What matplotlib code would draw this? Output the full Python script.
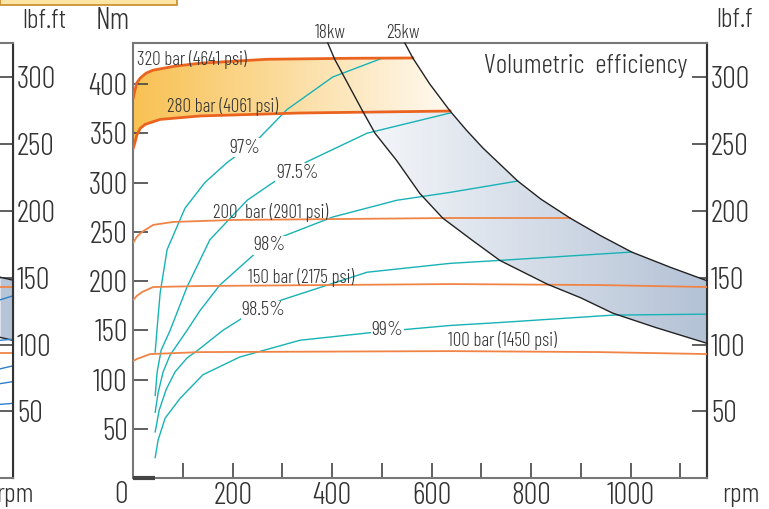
import numpy as np
import matplotlib.pyplot as plt
from matplotlib.patches import Polygon, Rectangle
from matplotlib.colors import to_rgb
from matplotlib.transforms import Bbox, TransformedBbox

plt.rcParams['font.family'] = ['Barlow Condensed', 'DejaVu Sans']
plt.rcParams['font.weight'] = 300

NM_PER_LBFFT = 1.3558
XMAX = 1153
YMAX = 441.5

# pressure lines (rpm, Nm)
p320_rpm = [0, 3, 7, 14, 26, 40, 84, 134, 269, 436, 562]
p320_nm = [386, 393, 401, 406, 411, 414, 418, 421, 425, 426, 426.3]
p280_rpm = [0, 3, 7, 14, 24, 54, 134, 335, 637]
p280_nm = [335, 340, 348, 355, 359, 364, 367.5, 370.5, 372.5]
p200_rpm = [0, 7, 18, 40, 80, 200, 637, 878]
p200_nm = [239, 245, 250, 257, 260, 262, 264, 264]
p150_rpm = [0, 7, 18, 40, 134, 637, 938, 1153]
p150_nm = [181, 185, 189, 194, 195, 197, 196, 194]
p100_rpm = [0, 7, 18, 34, 134, 637, 938, 1153]
p100_nm = [119, 121, 123, 126, 128, 129, 128, 126]

# volumetric efficiency lines (rpm, Nm)
e970_rpm = [44, 48, 54, 68, 104, 144, 188, 249, 309, 401, 500]
e970_nm = [128, 153, 188, 232, 274, 300, 320, 343, 374, 407, 426]
e975_rpm = [44, 48, 56, 74, 108, 154, 229, 281, 349, 470, 637]
e975_nm = [84, 108, 130, 150, 194, 242, 282, 300, 321, 350, 370.5]
e980_rpm = [44, 50, 60, 74, 108, 134, 174, 245, 299, 401, 530, 637, 773]
e980_nm = [67, 87, 108, 125, 150, 170, 196, 228, 245, 265, 282, 290, 301.5]
e985_rpm = [44, 52, 66, 84, 108, 130, 180, 224, 299, 470, 637, 737, 1002]
e985_nm = [47, 69, 90, 108, 122, 130, 150, 164, 181, 209, 218, 221, 229.5]
e990_rpm = [44, 50, 64, 94, 140, 214, 335, 482, 637, 737, 964, 1153]
e990_nm = [21, 39, 61, 81, 105, 123, 140, 148, 155, 158, 165.5, 166.5]

# power curves
kw18_rpm = [391, 405, 460, 486, 530, 576, 622, 680, 737, 832, 900, 964, 1050, 1153]
kw18_nm = [441.5, 425, 373.5, 350, 322, 289, 264, 242, 221, 197, 183, 167.5, 153, 137]
kw25_rpm = [546, 562, 596, 637, 670, 703, 773, 820, 878, 940, 1002, 1080, 1153]
kw25_nm = [441.5, 426.3, 400, 372.5, 353, 335, 301.5, 283, 264, 246, 229.5, 214, 200.5]

min_speed = 44

pressure_labels = ['320 bar (4641 psi)', '280 bar (4061 psi)', '200  bar (2901 psi)',
                   '150 bar (2175 psi)', '100 bar (1450 psi)']
eff_labels = ['97%', '97.5%', '98%', '98.5%', '99%']

# neighbour chart (cut off at left edge)
lp_x = [0.9, 1.0]
lp_band_top = [204, 201]
lp_band_bot = [143, 140]
lp_orange = [[194, 194], [127, 127]]
lp_blue = [[181, 185], [140, 141], [111, 114], [96, 98], [75, 76]]

ORANGE = '#ea6420'
ORANGE2 = '#f08446'
TEAL = '#17b2b5'
GREY = '#777777'
TXT = '#333333'
FS = 22


def gradient_fill(ax, verts, x0, x1, c0, c1, z):
    poly = Polygon(verts, closed=True, facecolor='none', edgecolor='none')
    ax.add_patch(poly)
    t = np.linspace(0, 1, 256)[None, :, None]
    img = (1 - t) * np.array(to_rgb(c0)) + t * np.array(to_rgb(c1))
    im = ax.imshow(img, extent=[x0, x1, 0, YMAX], origin='lower', aspect='auto',
                   zorder=z, interpolation='bilinear')
    im.set_clip_path(poly)


fig = plt.figure(figsize=(7.69, 5.09), dpi=100)
ax = fig.add_axes([133.3 / 769, 30.7 / 509, (706.7 - 133.3) / 769, (478.3 - 43) / 509])

# yellow band between 320 and 280 bar
yverts = list(zip(p320_rpm, p320_nm)) + list(zip(kw25_rpm[1:4], kw25_nm[1:4])) \
    + list(zip(p280_rpm[::-1], p280_nm[::-1]))
gradient_fill(ax, yverts, 0, 640, '#f8c152', '#fffaf2', 0.5)

# blue band between 18kw and 25kw
bverts = list(zip(kw25_rpm[3:], kw25_nm[3:])) + list(zip(kw18_rpm[2:][::-1], kw18_nm[2:][::-1]))
gradient_fill(ax, bverts, 420, XMAX, '#f9fafc', '#b4c2d6', 0.5)

for xs, ys in [(e970_rpm, e970_nm), (e975_rpm, e975_nm), (e980_rpm, e980_nm),
               (e985_rpm, e985_nm), (e990_rpm, e990_nm)]:
    ax.plot(xs, ys, color=TEAL, lw=1.0, zorder=2)

ax.plot(p320_rpm, p320_nm, color=ORANGE, lw=2.0, zorder=3)
ax.plot(p280_rpm, p280_nm, color=ORANGE, lw=2.0, zorder=3)
for xs, ys in [(p200_rpm, p200_nm), (p150_rpm, p150_nm), (p100_rpm, p100_nm)]:
    ax.plot(xs, ys, color=ORANGE2, lw=1.3, zorder=3)

ax.plot(kw18_rpm, kw18_nm, color='#222222', lw=1.0, zorder=4, clip_on=False)
ax.plot(kw25_rpm, kw25_nm, color='#222222', lw=1.0, zorder=4, clip_on=False)

ax.plot([0, min_speed], [0, 0], color='#444444', lw=3, zorder=6, clip_on=False,
        solid_capstyle='butt')

# labels on curves
fs_lab = 13.7
ax.text(7, 425, pressure_labels[0], fontsize=fs_lab, color=TXT, va='center', zorder=5)
ax.text(67, 377, pressure_labels[1], fontsize=fs_lab, color=TXT, va='center', zorder=5)
ax.text(160, 270, pressure_labels[2], fontsize=fs_lab, color=TXT, va='center', zorder=5)
ax.text(231, 204, pressure_labels[3], fontsize=fs_lab, color=TXT, va='center', zorder=5)
ax.text(633, 140, pressure_labels[4], fontsize=fs_lab, color=TXT, va='center', zorder=5)

eff_pos = [(225, 335.5), (330, 310), (274, 236.5), (262, 170.5), (511, 150.5)]
box = dict(facecolor='white', edgecolor='none', pad=0.5)
for (x, y), s in zip(eff_pos, eff_labels):
    ax.text(x, y, s, fontsize=14.5, color=TXT, ha='center', va='center', zorder=5, bbox=box)

ax.text(396, 452, '18kw', fontsize=14, color=TXT, ha='center', va='center', clip_on=False)
ax.text(542, 452, '25kw', fontsize=14, color=TXT, ha='center', va='center', clip_on=False)
ax.text(1113, 411, 'Volumetric  efficiency', fontsize=20, color=TXT, ha='right',
        va='baseline', zorder=5)

ax.set_xlim(0, XMAX)
ax.set_ylim(0, YMAX)
ax.set_xticks([200, 400, 600, 800, 1000])
ax.set_xticks([100, 300, 500, 700, 900, 1100], minor=True)
ax.set_yticks(range(50, 401, 50))
ax.tick_params(axis='both', which='both', direction='in', length=11, width=1.2,
               color='#444444', labelsize=FS, labelcolor=TXT)
ax.tick_params(axis='x', pad=3)
ax.tick_params(axis='y', pad=4)
for side in ['left', 'top', 'bottom']:
    ax.spines[side].set_color(GREY)
    ax.spines[side].set_linewidth(1.5)
ax.spines['right'].set_color('#333333')
ax.spines['right'].set_linewidth(1.5)

sec = ax.secondary_yaxis('right', functions=(lambda v: v / NM_PER_LBFFT,
                                             lambda v: v * NM_PER_LBFFT))
sec.set_yticks(range(50, 301, 50))
sec.tick_params(direction='in', length=11, width=1.2, color='#444444', labelsize=FS,
                labelcolor=TXT, pad=3)
sec.spines['right'].set_color('#333333')
sec.spines['right'].set_linewidth(1.5)

fig.text(121 / 769, 1 - 495 / 509, '0', fontsize=FS, color=TXT, ha='center', va='center')
fig.text(741 / 769, 1 - 495 / 509, 'rpm', fontsize=20, color=TXT, ha='center', va='center')
fig.text(113 / 769, 1 - 21 / 509, 'Nm', fontsize=FS, color=TXT, ha='center', va='center')
rt = fig.text(716 / 769, 1 - 20 / 509, 'lbf.ft', fontsize=20, color=TXT, ha='left', va='center')
rt.set_clip_box(TransformedBbox(Bbox([[0, 0], [752 / 769, 1]]), fig.transFigure))
rt.set_clip_on(True)

# neighbour chart on the left, mostly outside the picture
axl = fig.add_axes([12.7 / 769 - 0.1651, 30.7 / 509, 0.1651, (478.3 - 43) / 509])
axl.fill_between(lp_x, lp_band_bot, lp_band_top, color='#b7c4d7', lw=0)
axl.plot(lp_x, lp_band_top, color='#222222', lw=1.0)
axl.plot(lp_x, lp_band_bot, color='#222222', lw=1.0)
for ys in lp_orange:
    axl.plot(lp_x, ys, color=ORANGE2, lw=1.3)
for ys in lp_blue:
    axl.plot(lp_x, ys, color='#2f7fc8', lw=1.0)
axl.set_xlim(0, 1)
axl.set_ylim(0, YMAX)
axl.set_xticks([])
axl.set_yticks([])
for side in ['left', 'top', 'bottom']:
    axl.spines[side].set_color(GREY)
    axl.spines[side].set_linewidth(1.5)
axl.spines['right'].set_color('#333333')
axl.spines['right'].set_linewidth(1.5)
secl = axl.secondary_yaxis('right', functions=(lambda v: v / NM_PER_LBFFT,
                                               lambda v: v * NM_PER_LBFFT))
secl.set_yticks(range(50, 301, 50))
secl.tick_params(direction='in', length=11, width=1.2, color='#444444', labelsize=FS,
                 labelcolor=TXT, pad=3)
secl.spines['right'].set_color('#333333')
fig.text(44 / 769, 1 - 21 / 509, 'lbf.ft', fontsize=20, color=TXT, ha='center', va='center')
fig.text(-4 / 769, 1 - 495 / 509, 'rpm', fontsize=20, color=TXT, ha='left', va='center')

fig.patches.append(Rectangle((0, 1 - 5 / 509), 177 / 769, 0.05, transform=fig.transFigure,
                             facecolor='#fde5a6', edgecolor='#c98a2a', lw=1.2))

fig.savefig('out.png', dpi=100)
